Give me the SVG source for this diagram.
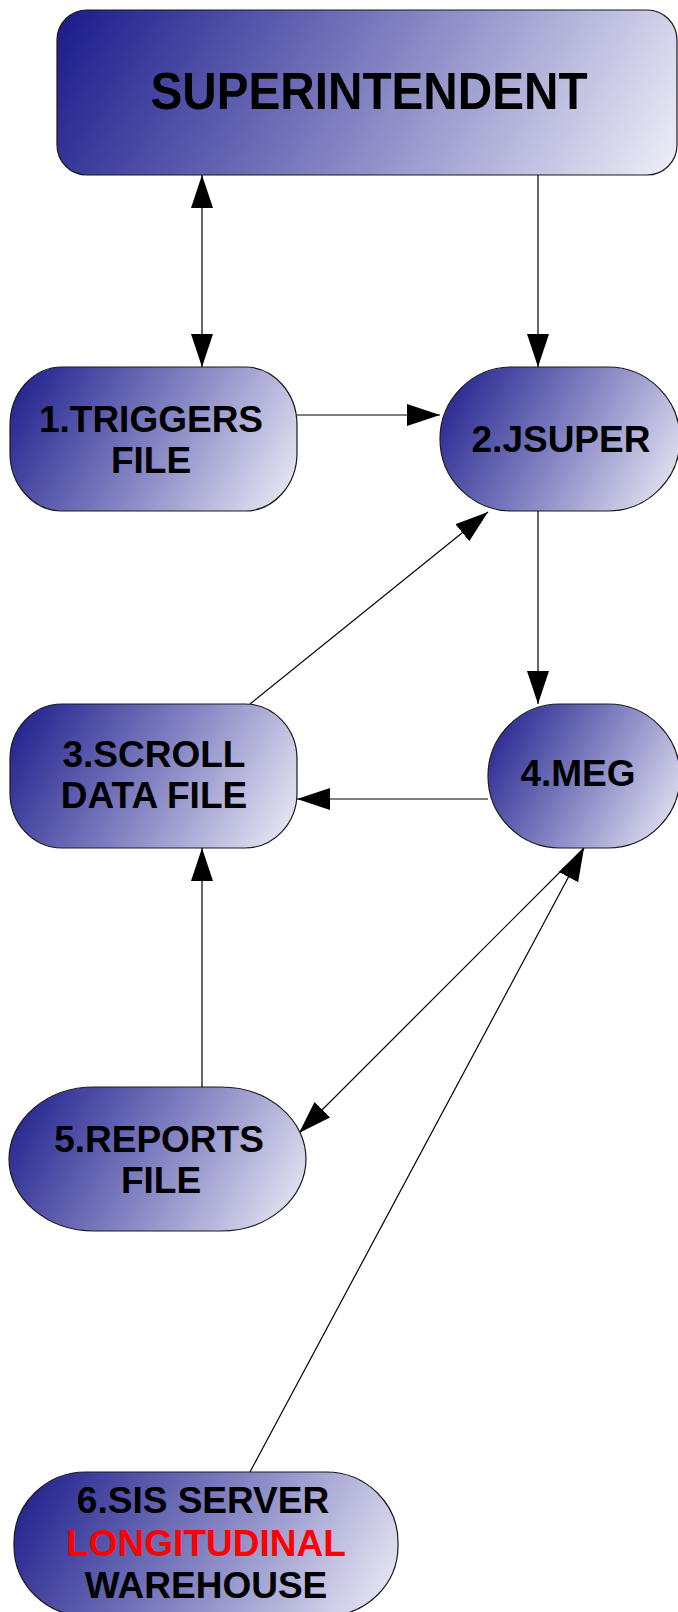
<svg xmlns="http://www.w3.org/2000/svg" width="678" height="1612" viewBox="0 0 678 1612">
<style>
.node{stroke:#1a1a1a;stroke-width:1.2}
.lbl{font-family:"Liberation Sans",Arial,sans-serif;font-weight:bold;font-size:37px;fill:#000;text-anchor:middle}
.red{fill:#ff0000}
.edge{stroke:#000;stroke-width:1.2;fill:none}
</style>
<defs>
<linearGradient id="base">
<stop offset="0" stop-color="#1a1a8a"/>
<stop offset="0.5" stop-color="#8282c2"/>
<stop offset="1" stop-color="#efeff8"/>
</linearGradient>
<linearGradient id="g0" href="#base" gradientUnits="userSpaceOnUse" x1="57" y1="10" x2="593.5" y2="319.8"/>
<linearGradient id="g1" href="#base" gradientUnits="userSpaceOnUse" x1="10" y1="367" x2="287.6" y2="527.3"/>
<linearGradient id="g2" href="#base" gradientUnits="userSpaceOnUse" x1="440" y1="367" x2="682.3" y2="506.9"/>
<linearGradient id="g3" href="#base" gradientUnits="userSpaceOnUse" x1="10" y1="704" x2="287.6" y2="864.3"/>
<linearGradient id="g4" href="#base" gradientUnits="userSpaceOnUse" x1="488" y1="704" x2="694.4" y2="823.2"/>
<linearGradient id="g5" href="#base" gradientUnits="userSpaceOnUse" x1="9" y1="1087" x2="294.1" y2="1251.6"/>
<linearGradient id="g6" href="#base" gradientUnits="userSpaceOnUse" x1="14" y1="1472" x2="364.3" y2="1674.3"/>
<marker id="ah" markerUnits="userSpaceOnUse" markerWidth="34" markerHeight="22" refX="33" refY="11" orient="auto-start-reverse" viewBox="0 0 34 22">
<path d="M0,0 L33,11 L0,22 z" fill="#000"/>
</marker>
</defs>
<rect width="678" height="1612" fill="#fff"/>
<g id="connectors">
<line class="edge" x1="202" y1="175" x2="202" y2="367" marker-start="url(#ah)" marker-end="url(#ah)"/>
<line class="edge" x1="538" y1="175" x2="538" y2="367" marker-end="url(#ah)"/>
<line class="edge" x1="297" y1="415" x2="440" y2="415" marker-end="url(#ah)"/>
<line class="edge" x1="250" y1="704" x2="488" y2="512" marker-end="url(#ah)"/>
<line class="edge" x1="538" y1="511" x2="538" y2="704" marker-end="url(#ah)"/>
<line class="edge" x1="488" y1="799" x2="297" y2="799" marker-end="url(#ah)"/>
<line class="edge" x1="202" y1="1087" x2="202" y2="848" marker-end="url(#ah)"/>
<line class="edge" x1="584" y1="848" x2="299" y2="1133" marker-end="url(#ah)"/>
<line class="edge" x1="250" y1="1472" x2="584" y2="848" marker-end="url(#ah)"/>
</g>
<g id="superintendent">
<rect class="node" fill="url(#g0)" x="57" y="10" width="620" height="165" rx="30" ry="30"/>
<text class="lbl" x="369" y="109" style="font-size:51px" textLength="437" lengthAdjust="spacingAndGlyphs">SUPERINTENDENT</text>
</g>
<g id="n1">
<rect class="node" fill="url(#g1)" x="10" y="367" width="287" height="144" rx="52" ry="58"/>
<text class="lbl" x="151" y="432">1.TRIGGERS</text>
<text class="lbl" x="151" y="473">FILE</text>
</g>
<g id="n2">
<rect class="node" fill="url(#g2)" x="440" y="367" width="240" height="144" rx="72" ry="72"/>
<text class="lbl" x="561" y="452">2.JSUPER</text>
</g>
<g id="n3">
<rect class="node" fill="url(#g3)" x="10" y="704" width="287" height="144" rx="52" ry="55"/>
<text class="lbl" x="154" y="767">3.SCROLL</text>
<text class="lbl" x="154" y="808">DATA FILE</text>
</g>
<g id="n4">
<rect class="node" fill="url(#g4)" x="488" y="704" width="192" height="144" rx="72" ry="72"/>
<text class="lbl" x="578" y="786">4.MEG</text>
</g>
<g id="n5">
<rect class="node" fill="url(#g5)" x="9" y="1087" width="297" height="144" rx="85" ry="72"/>
<text class="lbl" x="159" y="1152">5.REPORTS</text>
<text class="lbl" x="161" y="1193">FILE</text>
</g>
<g id="n6">
<rect class="node" fill="url(#g6)" x="14" y="1472" width="384" height="144" rx="72" ry="70"/>
<text class="lbl" x="203" y="1513">6.SIS SERVER</text>
<text class="lbl red" x="206" y="1556">LONGITUDINAL</text>
<text class="lbl" x="206" y="1598">WAREHOUSE</text>
</g>
</svg>
